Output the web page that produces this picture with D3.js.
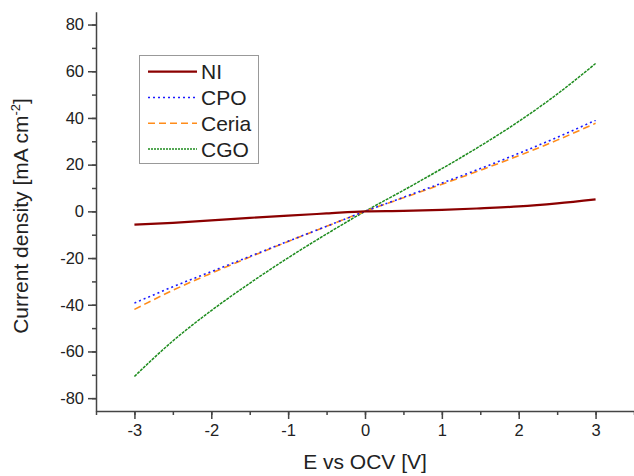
<!DOCTYPE html>
<html>
<head>
<meta charset="utf-8">
<script src="https://cdn.jsdelivr.net/npm/d3@7"></script>
<style>
  body { margin: 0; background: #fff; }
  text { font-family: "Liberation Sans", Arial, sans-serif; fill: #222; }
  .axis path, .axis line { stroke: #444; stroke-width: 1.5; }
  .axis text { font-size: 16.5px; fill: #222; }
</style>
</head>
<body>
<div class="chart"></div>
<script>
// potentials (V) and current density (mA cm-2)
const potential = [-3, -2.5, -2, -1.5, -1, -0.5, 0, 0.5, 1, 1.5, 2, 2.5, 3];
const ni    = [-5.7, -4.9, -3.9, -2.8, -1.8, -0.9, 0, 0.2, 0.6, 1.3, 2.1, 3.4, 5.1];
const cpo   = [-39.3, -32.3, -25.8, -19.3, -12.8, -6.4, 0, 6.0, 12.1, 18.3, 24.8, 31.7, 39.0];
const ceria = [-42.0, -33.8, -26.5, -19.6, -12.9, -6.4, 0, 5.8, 11.6, 17.6, 23.8, 30.5, 37.7];
const cgo   = [-70.7, -55.5, -42.5, -30.8, -19.9, -9.7, 0, 9.0, 18.3, 28.0, 38.5, 50.2, 63.3];

const seriesNames = ["NI", "CPO", "Ceria", "CGO"];
const xTicks = [-3, -2, -1, 0, 1, 2, 3];
const yTicks = [-80, -60, -40, -20, 0, 20, 40, 60, 80];

const w = 634;
const h = 476;

const svg = d3.select(".chart")
  .append("svg")
  .attr("width", w)
  .attr("height", h);

const xScale = d3.scaleLinear()
  .domain([-3.5, 3.5])
  .range([96, 634]);

const yScale = d3.scaleLinear()
  .domain([-85.5, 85.5])
  .range([411, 11.7]);

// plain hyphen for negatives, like the original
const fmt = d => String(d);

// minor ticks first, major on top
svg.append("g")
  .attr("class", "axis")
  .attr("transform", "translate(0,411)")
  .call(d3.axisBottom(xScale).tickValues(d3.range(-3.5, 3.51, 0.5)).tickSize(4).tickFormat(""))
  .call(g => g.select(".domain").remove());

svg.append("g")
  .attr("class", "axis")
  .attr("transform", "translate(96,0)")
  .call(d3.axisLeft(yScale).tickValues(d3.range(-80, 81, 10)).tickSize(4).tickFormat(""))
  .call(g => g.select(".domain").remove());

svg.append("g")
  .attr("class", "axis")
  .attr("transform", "translate(0,411)")
  .call(d3.axisBottom(xScale).tickValues(xTicks).tickSize(8).tickSizeOuter(0).tickPadding(5).tickFormat(fmt));

svg.append("g")
  .attr("class", "axis")
  .attr("transform", "translate(96,0)")
  .call(d3.axisLeft(yScale).tickValues(yTicks).tickSize(8).tickSizeOuter(0).tickPadding(4).tickFormat(fmt));

const series = [
  {name: "NI",    vals: ni,    color: "#8b0000", width: 2.2, dash: null},
  {name: "CPO",   vals: cpo,   color: "#1a1aff", width: 1.6, dash: "2,3"},
  {name: "Ceria", vals: ceria, color: "#ff8c1a", width: 1.6, dash: "7,4"},
  {name: "CGO",   vals: cgo,   color: "#1e8c1e", width: 1.5, dash: "3,1"}
];

const line = d3.line()
  .x((d, i) => xScale(potential[i]))
  .y(d => yScale(d))
  .curve(d3.curveMonotoneX);

// draw CGO first so the others sit on top like the original
[3, 2, 1, 0].forEach(k => {
  const s = series[k];
  svg.append("path")
    .attr("d", line(s.vals))
    .attr("fill", "none")
    .attr("stroke", s.color)
    .attr("stroke-width", s.width)
    .attr("stroke-dasharray", s.dash);
});

// legend
const legend = svg.append("g");
legend.append("rect")
  .attr("x", 139.5)
  .attr("y", 55.5)
  .attr("width", 119)
  .attr("height", 108)
  .attr("fill", "#fff")
  .attr("stroke", "#999")
  .attr("stroke-width", 1);

series.forEach((s, i) => {
  const y = 71.7 + i * 25.8;
  legend.append("line")
    .attr("x1", 148).attr("x2", 197)
    .attr("y1", y).attr("y2", y)
    .attr("stroke", s.color)
    .attr("stroke-width", s.width)
    .attr("stroke-dasharray", i == 3 ? "2,1" : s.dash);
  legend.append("text")
    .attr("x", 201)
    .attr("y", y + 7.5)
    .style("font-size", "21px")
    .text(seriesNames[i]);
});

// axis titles
svg.append("text")
  .attr("x", xScale(0))
  .attr("y", 469)
  .attr("text-anchor", "middle")
  .style("font-size", "21px")
  .text("E vs OCV [V]");

const yt = svg.append("text")
  .attr("transform", "translate(28," + 216 + ") rotate(-90)")
  .attr("text-anchor", "middle")
  .style("font-size", "21px");
yt.append("tspan").text("Current density [mA cm");
yt.append("tspan").attr("dy", -8).style("font-size", "13px").text("-2");
yt.append("tspan").attr("dy", 8).text("]");
</script>
</body>
</html>
